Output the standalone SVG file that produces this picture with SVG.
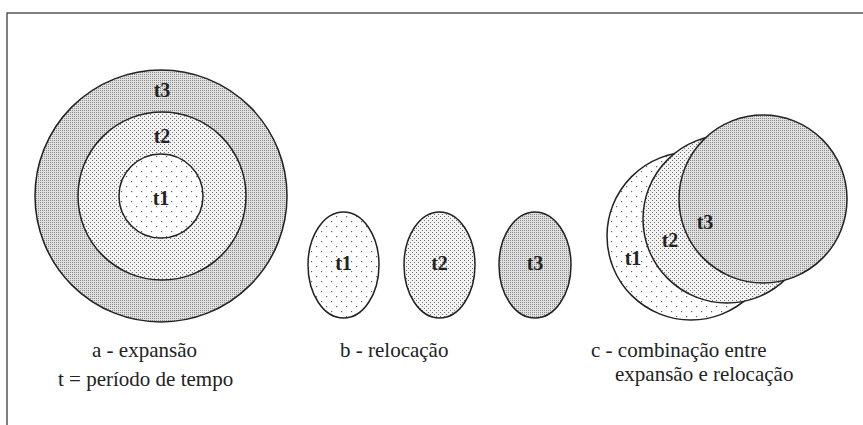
<svg xmlns="http://www.w3.org/2000/svg" width="863" height="425" viewBox="0 0 863 425">
  <defs>
    <pattern id="p1" width="10" height="10" patternUnits="userSpaceOnUse">
      <rect width="10" height="10" fill="#fff"/>
      <rect x="1" y="1" width="1.2" height="1.2" fill="#666"/>
      <rect x="6" y="6" width="1.2" height="1.2" fill="#666"/>
    </pattern>
    <pattern id="p2" width="4" height="4" patternUnits="userSpaceOnUse">
      <rect width="4" height="4" fill="#f2f2f2"/>
      <rect x="0" y="0" width="1" height="1" fill="#707070"/>
      <rect x="2" y="2" width="1" height="1" fill="#707070"/>
    </pattern>
    <pattern id="p3" width="2" height="2" patternUnits="userSpaceOnUse">
      <rect width="2" height="2" fill="#e0e0e0"/>
      <rect x="0" y="0" width="1" height="1" fill="#8c8c8c"/>
    </pattern>
  </defs>
  <style>
    .shape { stroke: #222; stroke-width: 1.5; }
    .f1 { fill: url(#p1); }
    .f2 { fill: url(#p2); }
    .f3 { fill: url(#p3); }
    text { font-family: 'Liberation Serif', serif; fill: #222; }
    .tl { font-size: 20px; font-weight: bold; text-anchor: middle; }
    .cap { font-size: 21px; }
    .frame { stroke: #555; stroke-width: 1.5; fill: none; }
  </style>
  <rect width="863" height="425" fill="#fff"/>
  <g id="frame">
    <polyline class="frame" points="7,425 7,13 863,13"/>
  </g>

  <g id="expansao">
    <g id="a-t3">
      <circle class="shape f3" cx="161" cy="196" r="126"/>
      <text class="tl" x="162" y="97">t3</text>
    </g>
    <g id="a-t2">
      <circle class="shape f2" cx="162" cy="196" r="84"/>
      <text class="tl" x="162" y="143">t2</text>
    </g>
    <g id="a-t1">
      <circle class="shape f1" cx="161" cy="196" r="42"/>
      <text class="tl" x="161" y="205">t1</text>
    </g>
  </g>

  <g id="relocacao">
    <g id="b-t1">
      <ellipse class="shape f1" cx="343.5" cy="265" rx="35.5" ry="53"/>
      <text class="tl" x="343.5" y="270">t1</text>
    </g>
    <g id="b-t2">
      <ellipse class="shape f2" cx="439.5" cy="265" rx="35.5" ry="53"/>
      <text class="tl" x="439.5" y="270">t2</text>
    </g>
    <g id="b-t3">
      <ellipse class="shape f3" cx="535" cy="265" rx="36" ry="53"/>
      <text class="tl" x="535" y="270">t3</text>
    </g>
  </g>

  <g id="combinacao">
    <g id="c-t1">
      <circle class="shape f1" cx="691" cy="236" r="84"/>
      <text class="tl" x="633" y="265">t1</text>
    </g>
    <g id="c-t2">
      <circle class="shape f2" cx="727" cy="219" r="84"/>
      <text class="tl" x="670" y="247">t2</text>
    </g>
    <g id="c-t3">
      <circle class="shape f3" cx="763" cy="199" r="84"/>
      <text class="tl" x="705" y="229">t3</text>
    </g>
  </g>

  <g id="captions">
    <text class="cap" x="92" y="357">a - expansão</text>
    <text class="cap" x="58" y="386" font-size="22">t = período de tempo</text>
    <text class="cap" x="340" y="357">b - relocação</text>
    <text class="cap" x="591" y="357">c - combinação entre</text>
    <text class="cap" x="615" y="381">expansão e relocação</text>
  </g>
</svg>
